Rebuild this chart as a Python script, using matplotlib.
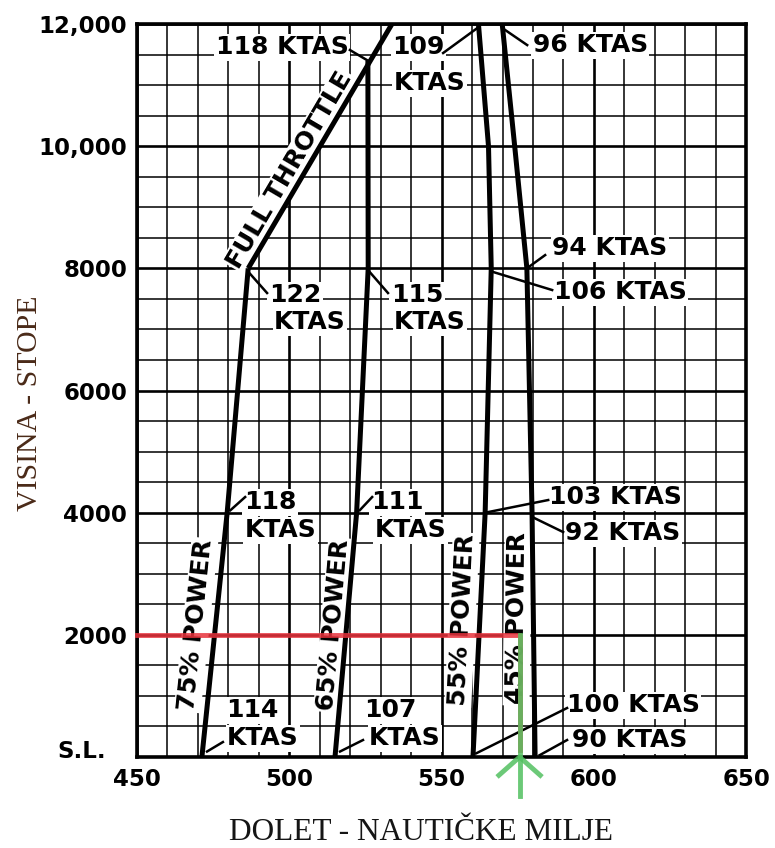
import numpy as np
import matplotlib
matplotlib.use('Agg')
import matplotlib.pyplot as plt
import matplotlib.transforms as mtransforms

# range (NM) vs pressure altitude (ft) for each power setting
alt_75 = [0, 4000, 8000]
rng_75 = [471.3, 479.6, 486.5]
alt_full = [8000, 12000]
rng_full = [486.5, 533.7]
alt_65 = [0, 4000, 8000, 11400]
rng_65 = [515.0, 522.1, 525.9, 525.8]
alt_55 = [0, 4000, 8000, 10000, 12000]
rng_55 = [560.3, 564.3, 566.3, 565.4, 562.1]
alt_45 = [0, 4000, 8000, 10000, 12000]
rng_45 = [580.7, 579.7, 578.0, 574.0, 569.9]

# true airspeeds marked on the curves
ktas_75 = [114, 118, 122]
ktas_full = [118]
ktas_65 = [107, 111, 115]
ktas_55 = [100, 103, 106, 109]
ktas_45 = [90, 92, 94, 96]

x_ticks = [450, 500, 550, 600, 650]
y_ticks = [0, 2000, 4000, 6000, 8000, 10000, 12000]
y_tick_labels = ['S.L.', '2000', '4000', '6000', '8000', '10,000', '12,000']

# example read-off: 2000 ft at 45% power
example_alt = 2000
example_rng = 575.6

fig = plt.figure(figsize=(7.75, 8.48), dpi=100)
ax = fig.add_axes([0.1768, 0.1073, 0.786, 0.8644])
ax.set_xlim(450, 650)
ax.set_ylim(0, 12000)

ax.set_xticks(x_ticks)
ax.set_xticks(np.arange(450, 651, 10), minor=True)
ax.set_yticks(y_ticks)
ax.set_yticks(np.arange(0, 12001, 500), minor=True)
ax.set_yticklabels(y_tick_labels)
ax.tick_params(which='both', length=0)
ax.tick_params(axis='y', pad=7)
ax.tick_params(axis='x', pad=8)
for lab in ax.get_xticklabels() + ax.get_yticklabels():
    lab.set_fontfamily('DejaVu Sans')
    lab.set_fontweight('bold')
    lab.set_fontsize(16.5)
# "S.L." sits a little left of and above the other labels
sl = ax.get_yticklabels()[0]
sl.set_transform(sl.get_transform() + mtransforms.ScaledTranslation(-15 / 72, 6 / 72, fig.dpi_scale_trans))

ax.grid(which='minor', color='black', lw=1.1, zorder=0)
ax.grid(which='major', color='black', lw=1.9, zorder=0)
ax.set_axisbelow(True)
for s in ax.spines.values():
    s.set_linewidth(2.6)

curves = [(rng_75, alt_75), (rng_full, alt_full), (rng_65, alt_65),
          (rng_55, alt_55), (rng_45, alt_45)]
for r, a in curves:
    ax.plot(r, a, color='black', lw=3.6, solid_capstyle='butt', zorder=4)


def on_curve(r, a, h):
    return np.interp(h, a, r)


def angle_of(x0, y0, x1, y1):
    p0 = ax.transData.transform((x0, y0))
    p1 = ax.transData.transform((x1, y1))
    return np.degrees(np.arctan2(p1[1] - p0[1], p1[0] - p0[0]))


box = dict(facecolor='white', edgecolor='none', pad=1.0)
tfont = dict(fontfamily='DejaVu Sans', fontweight='bold', fontsize=18,
             color='black', zorder=3, bbox=box)

# speed labels: (text lines, text positions, leader start, leader tip)
labels = [
    ([f'{ktas_75[0]}', 'KTAS'], [(487.8, 769), (491.4, 311)], (478.2, 245), (on_curve(rng_75, alt_75, 90) + 1.5, 90)),
    ([f'{ktas_75[1]}', 'KTAS'], [(493.7, 4174), (497.0, 3716)], (485.5, 4256), (on_curve(rng_75, alt_75, 4040) + 1, 4040)),
    ([f'{ktas_75[2]}', 'KTAS'], [(501.9, 7563), (506.8, 7121)], (492.7, 7596), (on_curve(rng_75, alt_75, 7950), 7950)),
    ([f'{ktas_65[0]}', 'KTAS'], [(533.1, 769), (538.0, 311)], (524.2, 278), (on_curve(rng_65, alt_65, 90) + 1.5, 90)),
    ([f'{ktas_65[1]}', 'KTAS'], [(535.4, 4174), (539.7, 3716)], (527.2, 4256), (on_curve(rng_65, alt_65, 4040) + 1, 4040)),
    ([f'{ktas_65[2]}', 'KTAS'], [(541.95, 7563), (546.2, 7121)], (532.4, 7596), (on_curve(rng_65, alt_65, 7970), 7970)),
    ([f'{ktas_full[0]} KTAS'], [(497.6, 11620)], (519.9, 11574), (on_curve(rng_65, alt_65, 11400), 11400)),
    ([f'{ktas_55[3]}', 'KTAS'], [(542.5, 11620), (546.0, 11030)], (550.5, 11525), (on_curve(rng_55, alt_55, 11950), 11950)),
    ([f'{ktas_45[3]} KTAS'], [(598.8, 11655)], (578.1, 11655), (on_curve(rng_45, alt_45, 11930), 11930)),
    ([f'{ktas_45[2]} KTAS'], [(605.3, 8332)], (584.0, 8217), (on_curve(rng_45, alt_45, 8000), 8000)),
    ([f'{ktas_55[2]} KTAS'], [(608.6, 7612)], (586.3, 7645), (on_curve(rng_55, alt_55, 7950), 7950)),
    ([f'{ktas_55[1]} KTAS'], [(607.0, 4256)], (585.0, 4207), (on_curve(rng_55, alt_55, 4000), 4000)),
    ([f'{ktas_45[1]} KTAS'], [(609.6, 3667)], (589.9, 3683), (on_curve(rng_45, alt_45, 3930), 3930)),
    ([f'{ktas_55[0]} KTAS'], [(612.9, 851)], (591.2, 802), (on_curve(rng_55, alt_55, 60) + 1, 60)),
    ([f'{ktas_45[0]} KTAS'], [(611.9, 278)], (591.2, 278), (on_curve(rng_45, alt_45, 30) + 1.5, 30)),
]
for lines, pos, start, tip in labels:
    for t, (x, y) in zip(lines, pos):
        ax.text(x, y, t, ha='center', va='center', **tfont)
    ax.plot([start[0], tip[0]], [start[1], tip[1]], color='black', lw=1.8, zorder=4)

# power setting labels along the curves
power = [
    ('75% POWER', (469.4, 2161), rng_75, alt_75),
    ('65% POWER', (514.7, 2161), rng_65, alt_65),
    ('55% POWER', (556.7, 2243), rng_55, alt_55),
    ('45% POWER', (574.8, 2275), rng_45, alt_45),
]
for t, (x, y), r, a in power:
    rot = angle_of(r[0], a[0], r[1], a[1])
    if rot > 90:
        rot = 180 - rot
    ax.text(x, y, t, ha='center', va='center', rotation=rot,
            rotation_mode='anchor', **tfont)

ft_rot = angle_of(rng_full[0], alt_full[0], rng_full[1], alt_full[1])
ax.text(500.2, 9609, 'FULL THROTTLE', ha='center', va='center',
        rotation=ft_rot, rotation_mode='anchor', **tfont)

# red/green read-off lines
ax.plot([450, example_rng, example_rng], [example_alt, example_alt, 120],
        color='#e8323c', lw=3.5, alpha=0.85, zorder=6, clip_on=False)
ax.plot([example_rng, example_rng], [example_alt, -640],
        color='#52c060', lw=3.5, alpha=0.85, zorder=7, clip_on=False)
ax.plot([example_rng - 6.8, example_rng, example_rng + 6.8], [-300, 0, -300],
        color='#52c060', lw=3.5, alpha=0.85, zorder=7, clip_on=False)

fig.text(0.039, 0.525, 'VISINA - STOPE', rotation=90, ha='center', va='center',
         fontfamily='Liberation Serif', fontsize=21.5, color='#4a2a18')
fig.text(0.543, 0.0177, 'DOLET - NAUTIČKE MILJE', ha='center', va='center',
         fontfamily='Liberation Serif', fontsize=22.5, color='#151515')

fig.savefig('out.png', dpi=100)
